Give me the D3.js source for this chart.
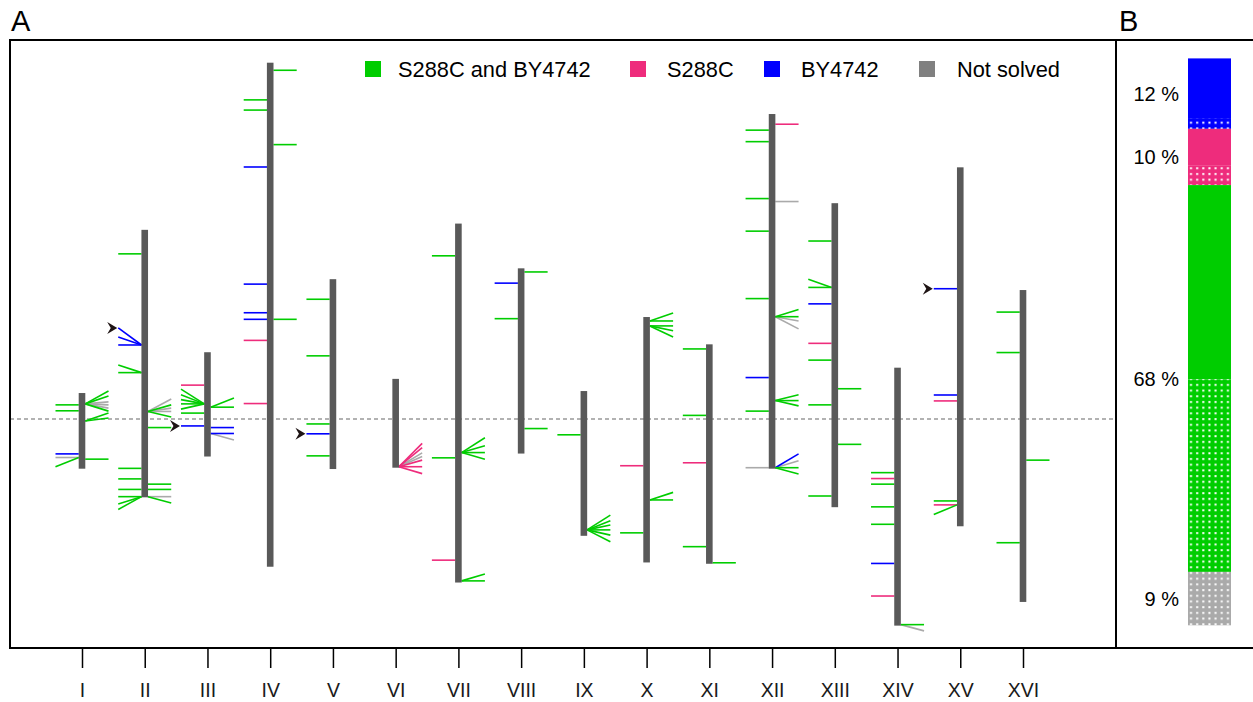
<!DOCTYPE html>
<html><head><meta charset="utf-8">
<script src="https://cdn.jsdelivr.net/npm/d3@7"></script>
<style>body{margin:0;background:#fff}svg{display:block}text{font-family:"Liberation Sans",Arial,sans-serif}</style>
</head><body>
<svg id="c" width="1253" height="702"></svg>
<script>
// ---------------- data ----------------
const chromosomes = ["I","II","III","IV","V","VI","VII","VIII","IX","X","XI","XII","XIII","XIV","XV","XVI"];
const chrLengthKb = [230,813,317,1532,577,270,1091,563,440,746,667,1078,924,784,1091,948];
const centromereKb = [151,238,114,449,152,148,497,105,355,436,440,151,268,628,326,556];

const categories = ["S288C and BY4742","S288C","BY4742","Not solved"];
const categoryKeys = ["g","p","b","n"];
const lineColors = ["#00cd00","#ee2c7c","#0000ff","#aaaaaa"];
const legendColors = ["#00cd00","#ee2c7c","#0000ff","#808080"];

// [chromosome, side, position on chromosome (kb), label end position (kb), category]
const features = [
  ["I","L",194,194,"g"],["I","L",176,176,"g"],["I","L",45,45,"b"],["I","L",34,34,"n"],["I","L",34,6,"g"],
  ["I","R",197,236,"g"],["I","R",197,221,"g"],["I","R",197,203,"n"],["I","R",197,194,"n"],["I","R",197,184,"n"],["I","R",197,175,"g"],
  ["I","R",145,169,"g"],["I","R",145,154,"g"],["I","R",29,29,"g"],

  ["II","L",740,740,"g"],["II","L",463,515,"b"],["II","L",463,487,"b"],["II","L",463,463,"b"],
  ["II","L",379,402,"g"],["II","L",379,379,"g"],
  ["II","R",261,299,"n"],["II","R",261,281,"g"],["II","R",261,271,"n"],["II","R",261,261,"n"],["II","R",261,244,"g"],
  ["II","R",212,212,"g"],
  ["II","L",88,88,"g"],["II","L",56,56,"g"],["II","L",24,24,"g"],["II","L",2,2,"g"],["II","L",2,-20,"g"],["II","L",2,-37,"g"],
  ["II","R",40,40,"g"],["II","R",24,24,"g"],["II","R",2,2,"n"],["II","R",2,-17,"g"],

  ["III","L",217,217,"p"],
  ["III","L",160,205,"g"],["III","L",160,188,"g"],["III","L",160,173,"g"],["III","L",160,160,"g"],["III","L",160,144,"g"],
  ["III","L",132,132,"g"],
  ["III","R",150,178,"g"],["III","R",150,150,"g"],
  ["III","L",93,93,"b"],["III","R",88,88,"b"],["III","R",70,70,"b"],["III","R",70,50,"n"],

  ["IV","R",1509,1509,"g"],["IV","L",1419,1419,"g"],["IV","L",1388,1388,"g"],["IV","R",1283,1283,"g"],
  ["IV","L",1215,1215,"b"],["IV","L",859,859,"b"],["IV","L",772,772,"b"],["IV","L",752,752,"b"],
  ["IV","R",752,752,"g"],["IV","L",688,688,"p"],["IV","L",496,496,"p"],

  ["V","L",516,516,"g"],["V","L",344,344,"g"],["V","L",137,137,"g"],["V","L",107,107,"b"],["V","L",40,40,"g"],

  ["VI","R",3,74,"p"],["VI","R",3,61,"p"],["VI","R",3,45,"n"],["VI","R",3,34,"n"],["VI","R",3,23,"p"],["VI","R",3,3,"p"],["VI","R",3,-18,"p"],

  ["VII","L",993,993,"g"],["VII","L",379,379,"g"],["VII","L",68,68,"p"],
  ["VII","R",395,440,"g"],["VII","R",395,416,"g"],["VII","R",395,395,"g"],["VII","R",395,375,"g"],
  ["VII","R",5,26,"g"],["VII","R",5,5,"g"],

  ["VIII","R",552,552,"g"],["VIII","R",76,76,"g"],["VIII","L",518,518,"b"],["VIII","L",410,410,"g"],

  ["IX","L",307,307,"g"],
  ["IX","R",18,63,"g"],["IX","R",18,46,"g"],["IX","R",18,33,"g"],["IX","R",18,18,"g"],["IX","R",18,2,"g"],["IX","R",18,-18,"g"],

  ["X","R",734,758,"g"],["X","R",734,734,"g"],
  ["X","R",719,719,"g"],["X","R",719,704,"g"],["X","R",719,685,"g"],
  ["X","L",294,294,"p"],["X","R",190,213,"g"],["X","R",190,190,"g"],["X","L",90,90,"g"],

  ["XI","L",653,653,"g"],["XI","L",451,451,"g"],["XI","L",307,307,"p"],["XI","L",52,52,"g"],["XI","R",3,3,"g"],

  ["XII","R",1047,1047,"p"],
  ["XII","L",1029,1029,"g"],["XII","L",994,994,"g"],["XII","L",821,821,"g"],["XII","L",722,722,"g"],["XII","L",517,517,"g"],
  ["XII","L",277,277,"b"],["XII","L",175,175,"g"],["XII","L",3,3,"n"],
  ["XII","R",812,812,"n"],
  ["XII","R",462,484,"g"],["XII","R",462,462,"g"],["XII","R",462,449,"n"],["XII","R",462,425,"n"],
  ["XII","R",207,225,"g"],["XII","R",207,207,"g"],["XII","R",207,191,"g"],
  ["XII","R",3,45,"b"],["XII","R",3,24,"n"],["XII","R",3,3,"g"],["XII","R",3,-16,"g"],

  ["XIII","L",809,809,"g"],["XIII","L",668,693,"g"],["XIII","L",668,668,"g"],["XIII","L",618,618,"b"],
  ["XIII","L",498,498,"p"],["XIII","L",447,447,"g"],["XIII","L",311,311,"g"],["XIII","L",34,34,"g"],
  ["XIII","R",360,360,"g"],["XIII","R",191,191,"g"],

  ["XIV","L",465,465,"g"],["XIV","L",447,447,"p"],["XIV","L",430,430,"g"],["XIV","L",361,361,"g"],
  ["XIV","L",308,308,"g"],["XIV","L",189,189,"b"],["XIV","L",90,90,"p"],
  ["XIV","R",3,3,"g"],["XIV","R",3,-16,"n"],

  ["XV","L",722,722,"b"],["XV","L",399,399,"b"],["XV","L",381,381,"p"],["XV","L",77,77,"g"],
  ["XV","L",65,65,"p"],["XV","L",65,36,"g"],

  ["XVI","L",881,881,"g"],["XVI","L",758,758,"g"],["XVI","L",180,180,"g"],["XVI","R",431,431,"g"]
];
// arrowheads marking selected loci: [chromosome, label end position (kb)]
const arrows = [["II",515],["III",93],["V",107],["XV",722]];

// panel B shares (percent)
const shareOrder = ["b","p","g","n"];
const shareSolid = [10.5,6.4,34.2,0];
const shareDotted = [1.9,3.5,33.9,9.4];
const shareLabels = ["12 %","10 %","68 %","9 %"];

// ---------------- drawing ----------------
const svg = d3.select("#c");
const colorOf = k => lineColors[categoryKeys.indexOf(k)];
const x = d3.scalePoint().domain(chromosomes).range([82, 1023]);
const y = d3.scaleLinear().domain([-696, 1152]).range([648, 40]);
const cenOf = c => centromereKb[chromosomes.indexOf(c)];
const yPos = (c, kb) => y(kb - cenOf(c));

// panel labels
svg.append("text").attr("x", 11).attr("y", 31).attr("font-size", 29).text("A");
svg.append("text").attr("x", 1119).attr("y", 31).attr("font-size", 29).text("B");

// centromere line
svg.append("line").attr("x1", 10).attr("x2", 1116).attr("y1", y(0)).attr("y2", y(0))
  .attr("stroke", "#666").attr("stroke-width", 1.2).attr("stroke-dasharray", "4,3");

// features
const gF = svg.append("g");
const order = ["n","b","p","g"];
features.slice().sort((a,b)=>order.indexOf(a[4])-order.indexOf(b[4])).forEach(([c, side, pos, end, cat]) => {
  const s = side === "L" ? -1 : 1;
  gF.append("line")
    .attr("x1", x(c) + s * 3.2).attr("y1", yPos(c, pos))
    .attr("x2", x(c) + s * 26.5).attr("y2", yPos(c, end))
    .attr("stroke", colorOf(cat)).attr("stroke-width", 1.6);
});

// chromosome bars
svg.append("g").selectAll("rect").data(chromosomes).join("rect")
  .attr("x", d => x(d) - 3.3).attr("width", 6.6)
  .attr("y", (d, i) => y(chrLengthKb[i] - centromereKb[i]))
  .attr("height", (d, i) => y(-centromereKb[i]) - y(chrLengthKb[i] - centromereKb[i]))
  .attr("fill", "#595959");

// arrowheads
svg.append("g").selectAll("path").data(arrows).join("path")
  .attr("transform", d => `translate(${x(d[0]) - 27.5},${yPos(d[0], d[1])})`)
  .attr("d", "M0,0 L-10,-6 L-6.5,0 L-10,6 Z")
  .attr("fill", "#1e1414");

// legend
const legX = [365, 630, 764, 919];
const legTextX = [398, 667, 801, 957];
categories.forEach((name, i) => {
  svg.append("rect").attr("x", legX[i]).attr("y", 61).attr("width", 16).attr("height", 16).attr("fill", legendColors[i]);
  svg.append("text").attr("x", legTextX[i]).attr("y", 77).attr("font-size", 21.8).attr("fill", "#000").text(name);
});

// x axis
const axis = svg.append("g").attr("transform", "translate(0,648)")
  .call(d3.axisBottom(x).tickSize(20).tickPadding(15));
axis.select(".domain").remove();
axis.selectAll(".tick line").attr("stroke", "#000").attr("stroke-width", 1.5);
axis.selectAll(".tick text").attr("font-size", 19.5).attr("fill", "#1a1a1a")
  .attr("font-family", "'Liberation Sans', Arial, sans-serif");

// frames
const frame = svg.append("g").attr("stroke", "#000").attr("stroke-width", 2).attr("fill", "none");
frame.append("line").attr("x1", 9).attr("x2", 1253).attr("y1", 40).attr("y2", 40);
frame.append("line").attr("x1", 9).attr("x2", 1253).attr("y1", 648).attr("y2", 648);
frame.append("line").attr("x1", 10).attr("x2", 10).attr("y1", 40).attr("y2", 648);
frame.append("line").attr("x1", 1116).attr("x2", 1116).attr("y1", 40).attr("y2", 648);

// panel B
const defs = svg.append("defs");
shareOrder.forEach(k => {
  const p = defs.append("pattern").attr("id", "dot-" + k).attr("patternUnits", "userSpaceOnUse")
    .attr("x", 1188).attr("y", 0).attr("width", 6.15).attr("height", 5.7);
  p.append("rect").attr("width", 6.15).attr("height", 5.7).attr("fill", colorOf(k));
  p.append("rect").attr("x", 2).attr("y", 2).attr("width", 2).attr("height", 2).attr("fill", "#fff");
});
const total = d3.sum(shareSolid) + d3.sum(shareDotted);
const yB = d3.scaleLinear().domain([0, total]).range([58.4, 625.3]);
let acc = 0;
const gB = svg.append("g");
shareOrder.forEach((k, i) => {
  const start = acc;
  if (shareSolid[i] > 0) {
    gB.append("rect").attr("x", 1188).attr("width", 43)
      .attr("y", yB(acc)).attr("height", yB(acc + shareSolid[i]) - yB(acc)).attr("fill", colorOf(k));
  }
  acc += shareSolid[i];
  gB.append("rect").attr("x", 1188).attr("width", 43)
    .attr("y", yB(acc)).attr("height", yB(acc + shareDotted[i]) - yB(acc)).attr("fill", `url(#dot-${k})`);
  acc += shareDotted[i];
  gB.append("text").attr("x", 1179).attr("y", (yB(start) + yB(acc)) / 2)
    .attr("dy", "0.36em").attr("text-anchor", "end").attr("font-size", 20).attr("fill", "#000")
    .text(shareLabels[i]);
});
</script>
</body></html>
